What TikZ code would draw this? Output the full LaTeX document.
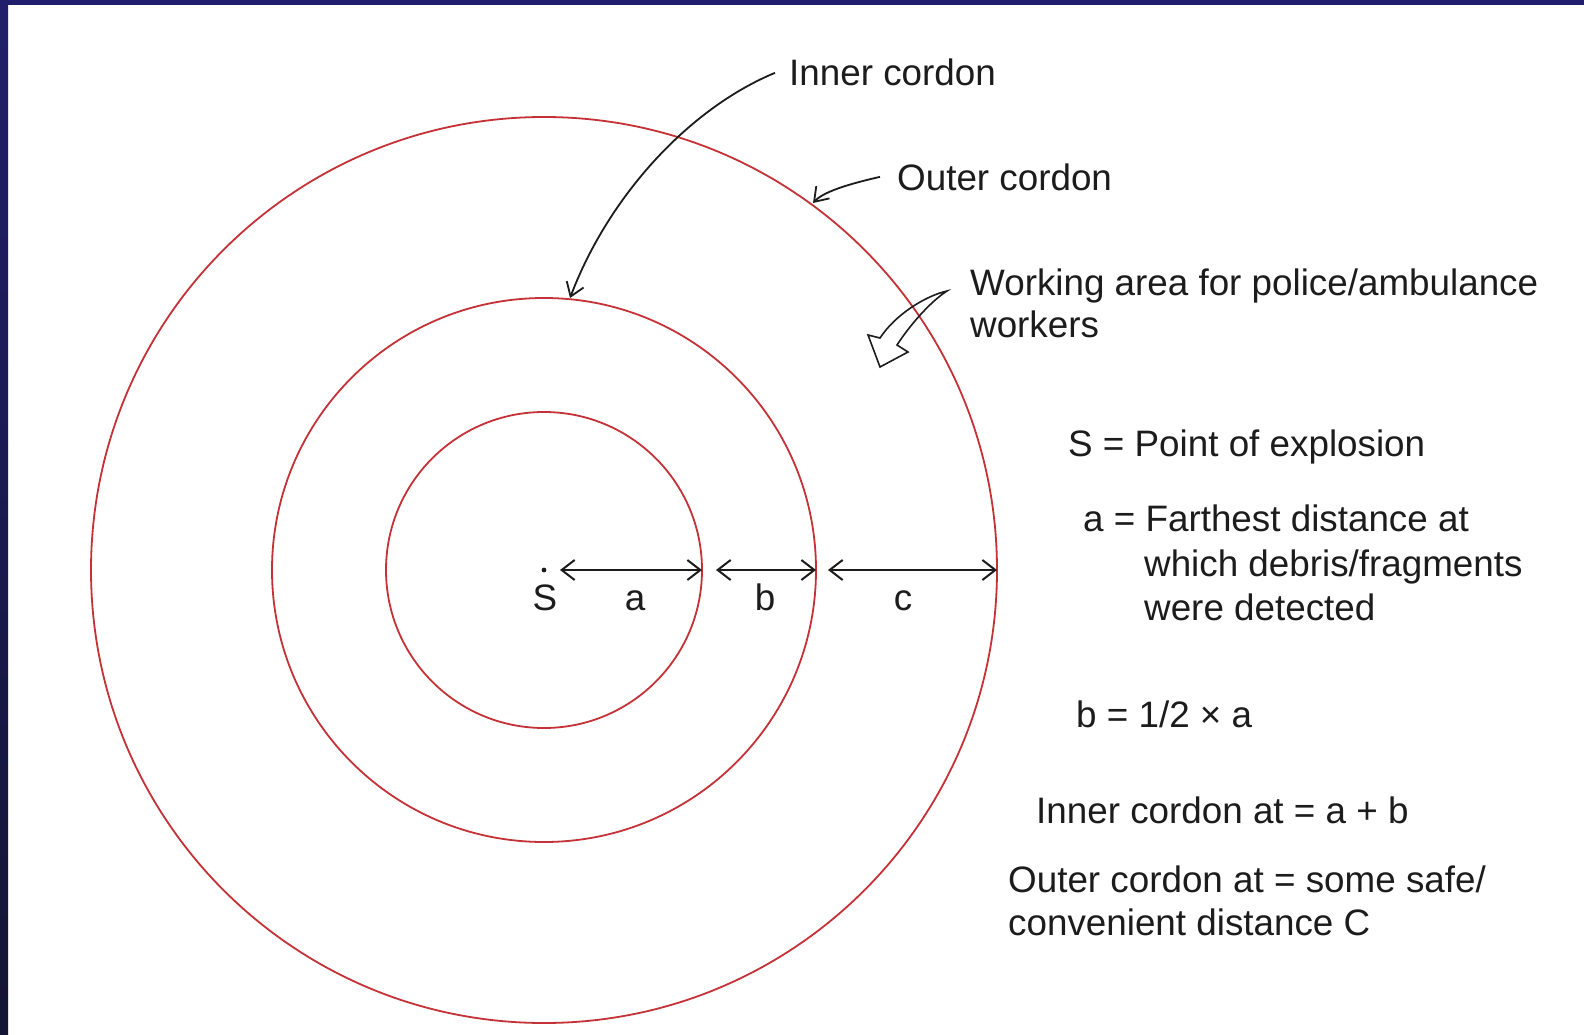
\documentclass[tikz,border=0pt]{standalone}
\usepackage{fontspec}
\setmainfont{Liberation Sans}
\usepackage{tikz}
\usetikzlibrary{arrows.meta}
\definecolor{cordonred}{RGB}{196,50,56}
\definecolor{framenavy}{RGB}{33,31,107}
\definecolor{framedark}{RGB}{20,20,52}
\definecolor{ink}{RGB}{28,28,28}

\begin{document}
\begin{tikzpicture}[x=1pt, y=-1pt,
  lbl/.style={anchor=base west, inner sep=0pt, text=ink, font=\fontsize{36.8}{44}\selectfont},
  dlbl/.style={anchor=base, inner sep=0pt, text=ink, font=\fontsize{36.8}{44}\selectfont},
  cordon/.style={draw=cordonred, line width=1.8pt},
  dist/.style={{Straight Barb[length=13pt,width=20pt]}-{Straight Barb[length=13pt,width=20pt]}, draw=ink, line width=2pt},
  pointer/.style={-{Straight Barb[length=13pt,width=18pt]}, draw=ink, line width=1.8pt}]
\useasboundingbox (0,0) rectangle (1584,1035);
\fill[white] (0,0) rectangle (1584,1035);
\fill[framenavy] (0,0) rectangle (1584,5);
\shade[top color=framenavy, bottom color=framedark] (0,0) rectangle (8,1035);

\coordinate (S) at (544,570);
\draw[cordon] (S) circle[radius=158pt];
\draw[cordon] (S) circle[radius=272pt];
\draw[cordon] (S) circle[radius=453pt];
\fill[ink] (S) circle[radius=2.4pt];

\coordinate (a0) at (560,570);
\coordinate (a1) at (702,570);
\coordinate (b0) at (716,570);
\coordinate (b1) at (816,570);
\coordinate (c0) at (828,570);
\coordinate (c1) at (997,570);
\draw[dist] (a0) -- (a1);
\draw[dist] (b0) -- (b1);
\draw[dist] (c0) -- (c1);
\node[dlbl] (lS) at (545,610) {S};
\node[dlbl] (la) at (635,610) {a};
\node[dlbl] (lb) at (765,610) {b};
\node[dlbl] (lc) at (903,610) {c};

\node[lbl] (lblInner) at (789,86) {Inner cordon};
\node[lbl] (lblOuter) at (897,190) {Outer cordon};
\node[lbl] (lblWork1) at (970,295) {Working area for police/ambulance};
\node[lbl] (lblWork2) at (970,337) {workers};

\coordinate (midtop) at (570,298);
\coordinate (outtop) at (813,203);
\draw[pointer] ([xshift=-14pt]lblInner.west) .. controls (690,108) and (609,195) .. (midtop);
\draw[pointer] ([xshift=-17pt]lblOuter.west) .. controls (858,182) and (825,190) .. (outtop);

\coordinate (wt) at (947,291);
\draw[ink, line width=1.6pt, line join=miter] (wt) .. controls (925,296) and (895,315) .. (880,338)
  -- (868,335) -- (880,367) -- (908,352) -- (897,345)
  .. controls (910,325) and (930,302) .. cycle;

\node[lbl] (defS) at (1068,456) {S = Point of explosion};
\node[lbl] (defA1) at (1083,531) {a = Farthest distance at};
\node[lbl] (defA2) at (1144,576) {which debris/fragments};
\node[lbl] (defA3) at (1144,620) {were detected};
\node[lbl] (defB) at (1076,727) {b = 1/2 × a};
\node[lbl] (defInner) at (1036,823) {Inner cordon at = a + b};
\node[lbl] (defOuter1) at (1008,892) {Outer cordon at = some safe/};
\node[lbl] (defOuter2) at (1008,935) {convenient distance C};
\end{tikzpicture}
\end{document}
